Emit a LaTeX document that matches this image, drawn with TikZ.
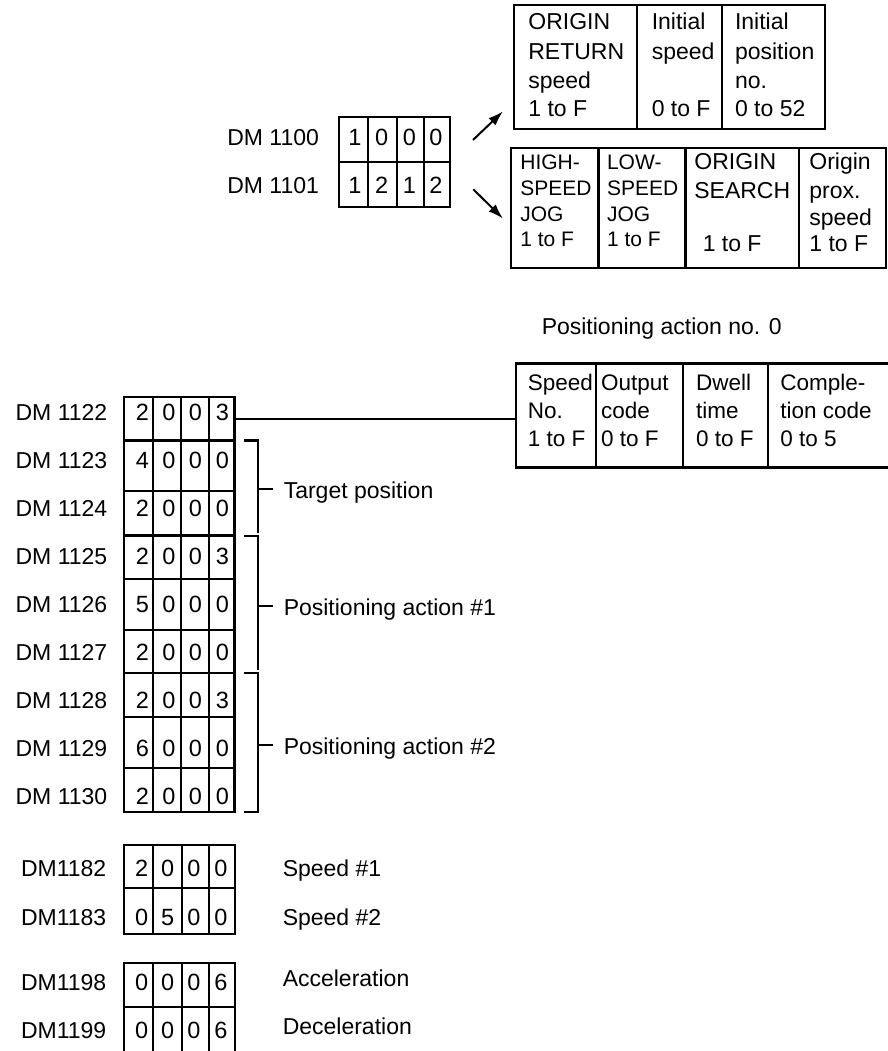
\documentclass[tikz,border=0pt]{standalone}
\usepackage{fontspec}
\setmainfont{Liberation Sans}
\usetikzlibrary{arrows.meta}
\begin{document}
\begin{tikzpicture}[x=1pt,y=-1pt,line width=2.1pt,
  txt/.style={inner sep=0pt,anchor=base west,font=\fontsize{23}{28}\selectfont},
  txtp/.style={inner sep=0pt,anchor=base west,font=\fontsize{22.5}{28}\selectfont},
  txts/.style={inner sep=0pt,anchor=base west,font=\fontsize{21}{24}\selectfont},
  txtr/.style={inner sep=0pt,anchor=base east,font=\fontsize{23}{28}\selectfont},
  dig/.style={inner sep=0pt,anchor=base,font=\fontsize{23.5}{28}\selectfont},
  boxn/.style={draw,inner sep=0pt,outer sep=0pt,anchor=north west},
  arr/.style={-{Latex[length=15pt,width=10pt]},line width=2pt}]
\useasboundingbox (0,0) rectangle (887,1051);

% ---------- top: DM 1100 / DM 1101 ----------
\node[txtr] (l1100) at (320,146) {DM 1100};
\node[txtr] (l1101) at (320,193.5) {DM 1101};
\node[boxn,minimum width=110.7pt,minimum height=89.4pt] (stab) at (339.3,117.3) {};
\foreach \x in {368.3,396.7,424.3} \draw (\x,117.3) -- (\x,206.7);
\draw (339.3,161.7) -- (450,161.7);
\foreach \a/\b/\c/\d/\y [count=\i] in {1/0/0/0/146, 1/2/1/2/193.5} {
  \node[dig] (s\i-a) at (355,\y) {\a};
  \node[dig] (s\i-b) at (381.7,\y) {\b};
  \node[dig] (s\i-c) at (409.3,\y) {\c};
  \node[dig] (s\i-d) at (436,\y) {\d};
}
\coordinate (a1s) at (473,140);
\coordinate (a1e) at (503,111.3);
\coordinate (a2s) at (473.3,189.3);
\coordinate (a2e) at (503,218.6);
\draw[arr] (a1s) -- (a1e);
\draw[arr] (a2s) -- (a2e);

% upper box
\node[boxn,minimum width=311pt,minimum height=124.6pt] (ubox) at (514,4.7) {};
\draw (637.3,4.7) -- (637.3,129.3);
\draw (721.7,4.7) -- (721.7,129.3);
\foreach \t/\x/\y [count=\i] in {ORIGIN/527.3/29.5, RETURN/527.3/59.3, speed/527.3/88.3, 1 to F/527.3/117,
   Initial/650.7/29.5, speed/650.7/59.3, 0 to F/650.7/117,
   Initial/734/29.5, position/734/59.3, no./734/88.3, 0 to 52/734/117}
  \node[txt] (u\i) at (\x,\y) {\t};

% lower box
\node[boxn,minimum width=375.3pt,minimum height=120pt] (lbox) at (510.9,148) {};
\foreach \x in {598.5,685.5,799.3} \draw (\x,148) -- (\x,268);
\foreach \t/\x/\y [count=\i] in {HIGH-/519.3/170, SPEED/519.3/195, JOG/519.3/221, 1 to F/519.3/246,
   LOW-/606/170, SPEED/606/195, JOG/606/221, 1 to F/606/246}
  \node[txts] (lw\i) at (\x,\y) {\t};
\foreach \t/\x/\y [count=\i] in {ORIGIN/693.3/170, SEARCH/693.3/198, 1 to F/701.7/251.6,
   Origin/808.3/170, prox./808.3/198, speed/808.3/225, 1 to F/808.3/251.6}
  \node[txt] (lx\i) at (\x,\y) {\t};

% ---------- positioning action no. 0 ----------
\node[txt] (ptitle) at (540.7,334) {Positioning action no. 0};
\node[boxn,minimum width=373pt,minimum height=104pt] (pbox) at (516,363.5) {};
\foreach \x in {595.8,682.8,768.3} \draw (\x,363.5) -- (\x,467.5);
\foreach \t/\x/\y [count=\i] in {Speed/526.7/390, No./526.7/418.3, 1 to F/526.7/446.7,
   Output/600/390, code/600/418.3, 0 to F/600/446.7,
   Dwell/695/390, time/695/418.3, 0 to F/695/446.7,
   Comple-/779.3/390, tion code/779.3/418.3, 0 to 5/779.3/446.7}
  \node[txtp] (p\i) at (\x,\y) {\t};

% ---------- main table ----------
\node[boxn,minimum width=110.2pt,minimum height=415pt] (mtab) at (124.3,396.7) {};
\foreach \x in {152.8,180.8,209.3} \draw (\x,396.7) -- (\x,811.7);
\foreach \y in {440.5,491.3,535.5,579.3,630,673.3,717.3,768.3} \draw (124.3,\y) -- (234.5,\y);
\foreach \lab [count=\i from 0] in {DM 1122,DM 1123,DM 1124,DM 1125,DM 1126,DM 1127,DM 1128,DM 1129,DM 1130}
  \node[txtr] (m\i) at (108.3,{420+48.1*\i}) {\lab};
\foreach \a/\b/\c/\d [count=\i from 0] in {2/0/0/3,4/0/0/0,2/0/0/0,2/0/0/3,5/0/0/0,2/0/0/0,2/0/0/3,6/0/0/0,2/0/0/0} {
  \node[dig] (d\i-a) at (142.5,{420+48.1*\i}) {\a};
  \node[dig] (d\i-b) at (169,{420+48.1*\i}) {\b};
  \node[dig] (d\i-c) at (195.5,{420+48.1*\i}) {\c};
  \node[dig] (d\i-d) at (222.5,{420+48.1*\i}) {\d};
}
\coordinate (row1122) at (234.5,418.6);
\draw (row1122) -- (row1122 -| pbox.west);

% brackets
\draw (244,440.5) -- (257.7,440.5) -- (257.7,533.3);
\draw (257.7,489) -- (273.3,489);
\draw (244,535.7) -- (257.7,535.7) -- (257.7,670);
\draw (257.7,606) -- (273.3,606);
\draw (244,673.3) -- (257.7,673.3) -- (257.7,811.7) -- (244,811.7);
\draw (257.7,745) -- (273.3,745);
\node[txt] (bt1) at (282.7,498) {Target position};
\node[txt] (bt2) at (282.7,615) {Positioning action \#1};
\node[txt] (bt3) at (282.7,754) {Positioning action \#2};

% ---------- speed tables ----------
\node[boxn,minimum width=111pt,minimum height=89.3pt] (sptab) at (124,845) {};
\draw (124,888.3) -- (235,888.3);
\foreach \x in {153.3,181.7,209.3} \draw (\x,845) -- (\x,934.3);
\node[boxn,minimum width=111pt,minimum height=95pt] (actab) at (124,962.7) {};
\draw (124,1006.7) -- (235,1006.7);
\foreach \x in {153.3,181.7,209.3} \draw (\x,962.7) -- (\x,1057.7);
\foreach \lab/\y [count=\i] in {DM1182/876.5,DM1183/925,DM1198/990.5,DM1199/1038.5}
  \node[txtr] (k\i) at (107.3,\y) {\lab};
\foreach \a/\b/\c/\d/\y [count=\i] in {2/0/0/0/876.5,0/5/0/0/925,0/0/0/6/990.5,0/0/0/6/1038.5} {
  \node[dig] (e\i-a) at (141.7,\y) {\a};
  \node[dig] (e\i-b) at (167.7,\y) {\b};
  \node[dig] (e\i-c) at (194,\y) {\c};
  \node[dig] (e\i-d) at (221,\y) {\d};
}
\node[txt] (sp1) at (281.7,876.5) {Speed \#1};
\node[txt] (sp2) at (281.7,925) {Speed \#2};
\node[txt] (acc) at (281.7,986) {Acceleration};
\node[txt] (dec) at (281.7,1034.5) {Deceleration};
\end{tikzpicture}
\end{document}
